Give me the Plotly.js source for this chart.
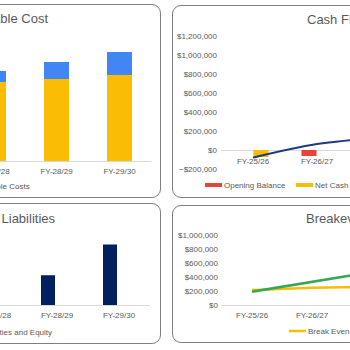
<!DOCTYPE html>
<html><head><meta charset="utf-8">
<script src="https://cdn.plot.ly/plotly-3.0.1.min.js"></script>
<style>
html,body{margin:0;padding:0;width:350px;height:350px;overflow:hidden;background:#fff;}
.panel{position:absolute;box-sizing:border-box;border:1px solid #7f7f7f;border-radius:9px;overflow:hidden;background:#fff;}
.panel>div{position:absolute;left:0;top:0;}
</style></head><body>
<div class="panel" style="left:-250px;top:4px;width:411px;height:194px"><div id="c1"></div></div>
<div class="panel" style="left:172px;top:5px;width:400px;height:193px"><div id="c2"></div></div>
<div class="panel" style="left:-250px;top:203px;width:411px;height:141px"><div id="c3"></div></div>
<div class="panel" style="left:172px;top:205px;width:400px;height:138px"><div id="c4"></div></div>
<script>
// ---- data ----
const years = ['FY-25/26','FY-26/27','FY-27/28','FY-28/29','FY-29/30'];

const costYears = ['FY-27/28','FY-28/29','FY-29/30'];
const fixedCosts = [830000, 865000, 905000];
const variableCosts = [120000, 175000, 245000];

const cashYears = ['FY-25/26','FY-26/27','FY-27/28'];
const openingBalance = [0, -63000, 63000];
const netCashFlow = [-74000, 0];
const closingBalance = [-80000, 63000, 130000];

const balanceYears = ['FY-28/29','FY-29/30'];
const liabilitiesEquity = [425000, 865000];

const breakYears = ['FY-25/26','FY-26/27','FY-27/28'];
const breakEven = [215000, 245000, 262000];
const revenue = [190000, 330000, 470000];

// ---- style ----
const FONT = 'Liberation Sans, Arial, sans-serif';
const GREY = '#595959';
const C_YEL = '#fbbc04', C_BLU = '#4285f4', C_RED = '#ea4335', C_GRN = '#34a853', C_NAVY = '#002060', C_LINE = '#1f3a7a';
const cfg = {staticPlot:true, displayModeBar:false};

function base(w, h, m){
  return {width:w, height:h, margin:m, paper_bgcolor:'rgba(0,0,0,0)', plot_bgcolor:'rgba(0,0,0,0)',
    font:{family:FONT, size:8, color:GREY}, showlegend:true};
}
function title(text, x, xa, y){
  return {text:text, font:{family:FONT, size:13, color:GREY}, xref:'container', yref:'container', x:x, xanchor:xa, y:y, yanchor:'middle'};
}
function legend(x, xa, y){
  return {orientation:'h', xref:'container', yref:'container', x:x, xanchor:xa, y:y, yanchor:'middle',
    font:{family:FONT, size:8, color:GREY}, bgcolor:'rgba(0,0,0,0)', traceorder:'normal'};
}
function xcat(){
  return {type:'category', categoryarray:years, categoryorder:'array', range:[-0.5, 4.5], ticks:'', showgrid:false,
    showline:true, linecolor:'#d9d9d9', linewidth:1, zeroline:false, ticklabelstandoff:2,
    tickfont:{family:FONT,size:8,color:GREY}, fixedrange:true};
}
function shortSwatches(gd){
  gd.querySelectorAll('.legendlines path').forEach(p => p.setAttribute('d','M21,0h17'));
}

// Chart 1: cost
(function(){
  const w=409, h=192;
  const L = base(w,h,{l:85,r:9,t:42,b:36});
  L.barmode='stack'; L.bargap=0.592;
  L.title = title('Fixed Cost vs Variable Cost', 297/w, 'right', 1-13/h);
  L.legend = legend((279+5)/w, 'right', 1-181/h);
  L.xaxis = xcat();
  L.yaxis = {range:[0,1200000], showgrid:false, zeroline:false, showticklabels:false, ticks:'', fixedrange:true};
  Plotly.newPlot('c1', [
    {type:'bar', name:'Fixed Costs', x:costYears, y:fixedCosts, marker:{color:C_YEL}},
    {type:'bar', name:'Variable Costs', x:costYears, y:variableCosts, marker:{color:C_BLU}}
  ], L, cfg);
})();

// Chart 2: cash flow
(function(){
  const w=398, h=191;
  const L = base(w,h,{l:48,r:30,t:30,b:28});
  L.barmode='group'; L.bargap=0.5; L.bargroupgap=0.06;
  L.title = title('Cash Flow', 134/w, 'left', 1-13.5/h);
  L.legend = legend(11/w, 'left', 1-179/h);
  L.legend2 = legend(102/w, 'left', 1-179/h);
  L.legend3 = legend(187/w, 'left', 1-179/h);
  const xa = xcat(); xa.anchor='free'; xa.position=1/7; xa.layer='below traces'; xa.ticklabelstandoff=3;
  L.xaxis = xa;
  L.yaxis = {range:[-200000,1200000], dtick:200000, tickformat:'$,.0f', showgrid:false, zeroline:false, ticks:'',
    ticklabelstandoff:3, tickfont:{family:FONT,size:8,color:GREY}, fixedrange:true};
  Plotly.newPlot('c2', [
    {type:'bar', name:'Opening Balance', x:cashYears, y:openingBalance, marker:{color:C_RED}, showlegend:false},
    {type:'bar', name:'Net Cash flow', x:cashYears.slice(0,2), y:netCashFlow, marker:{color:C_YEL}, showlegend:false},
    {type:'scatter', mode:'lines', name:'Opening Balance', x:[null], y:[null], line:{color:C_RED, width:4}, legend:'legend'},
    {type:'scatter', mode:'lines', name:'Net Cash flow', x:[null], y:[null], line:{color:C_YEL, width:4}, legend:'legend2'},
    {type:'scatter', mode:'lines', name:'Closing Balance', x:cashYears, y:closingBalance, line:{color:C_LINE, width:2, shape:'spline', smoothing:1}, legend:'legend3'}
  ], L, cfg).then(shortSwatches);
})();

// Chart 3: liabilities
(function(){
  const w=409, h=139;
  const L = base(w,h,{l:89,r:10,t:31,b:38});
  L.title = title('Total Assets vs Total Liabilities', 304/w, 'right', 1-14/h);
  L.legend = legend((301+6)/w, 'right', 1-128/h);
  L.xaxis = xcat();
  L.yaxis = {range:[0,1000000], showgrid:false, zeroline:false, showticklabels:false, ticks:'', fixedrange:true};
  Plotly.newPlot('c3', [
    {type:'bar', name:'Total Liabilities and Equity', x:balanceYears, y:liabilitiesEquity, width:0.226, offset:-0.258, marker:{color:C_NAVY}}
  ], L, cfg);
})();

// Chart 4: breakeven
(function(){
  const w=398, h=136;
  const L = base(w,h,{l:49,r:49,t:29,b:37});
  L.title = title('Breakeven Analysis', 133/w, 'left', 1-12/h);
  L.legend = legend(95/w, 'left', 1-125/h);
  L.legend2 = legend(172/w, 'left', 1-125/h);
  L.xaxis = xcat();
  L.yaxis = {range:[0,1000000], dtick:200000, tickformat:'$,.0f', showgrid:false, zeroline:false, ticks:'',
    ticklabelstandoff:3, tickfont:{family:FONT,size:8,color:GREY}, fixedrange:true};
  Plotly.newPlot('c4', [
    {type:'scatter', mode:'lines', name:'Break Even', x:breakYears, y:breakEven, line:{color:C_YEL, width:2.5}, legend:'legend'},
    {type:'scatter', mode:'lines', name:'Revenue', x:breakYears, y:revenue, line:{color:C_GRN, width:2.5}, legend:'legend2'}
  ], L, cfg).then(shortSwatches);
})();
</script>
</body></html>
